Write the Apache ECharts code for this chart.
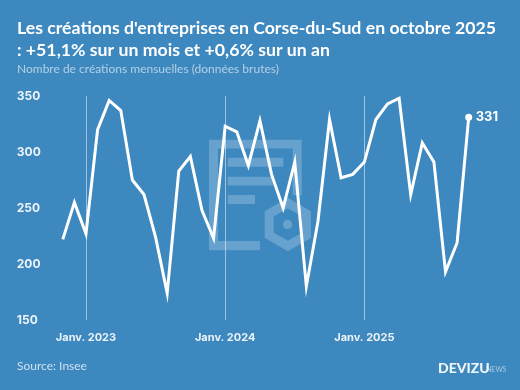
<!DOCTYPE html>
<html>
<head>
<meta charset="utf-8">
<style>
  html, body { margin: 0; padding: 0; background: #3c88bf; }
  #chart { width: 520px; height: 390px; }
</style>
<script src="https://cdn.jsdelivr.net/npm/echarts@6/dist/echarts.min.js"></script>
</head>
<body>
<div id="chart"></div>
<script>
const months = [
  'Nov. 2022', 'Déc. 2022',
  'Janv. 2023', 'Févr. 2023', 'Mars 2023', 'Avr. 2023', 'Mai 2023', 'Juin 2023',
  'Juil. 2023', 'Août 2023', 'Sept. 2023', 'Oct. 2023', 'Nov. 2023', 'Déc. 2023',
  'Janv. 2024', 'Févr. 2024', 'Mars 2024', 'Avr. 2024', 'Mai 2024', 'Juin 2024',
  'Juil. 2024', 'Août 2024', 'Sept. 2024', 'Oct. 2024', 'Nov. 2024', 'Déc. 2024',
  'Janv. 2025', 'Févr. 2025', 'Mars 2025', 'Avr. 2025', 'Mai 2025', 'Juin 2025',
  'Juil. 2025', 'Août 2025', 'Sept. 2025', 'Oct. 2025'
];
const creations = [
  222, 255,
  227, 320, 346, 337, 275, 262, 224, 174, 283, 296, 248, 223,
  323, 318, 288, 328, 280, 250, 291, 180, 238, 329, 277, 280,
  291, 329, 343, 348, 262, 308, 291, 193, 219, 331
];
const yTicks = { min: 150, max: 350, interval: 50 };

const mChart = echarts.init(document.getElementById('chart'), null, { renderer: 'canvas' });
const font = 'Lato, "Open Sans", sans-serif';
const axisFont = 'Inter, Lato, sans-serif';
const last = creations.length - 1;
const isJanuary = (i) => months[i].startsWith('Janv');
const mark = 'rgba(255,255,255,0.22)';

function hexagon(cx, cy, r) {
  const pts = [];
  for (let i = 0; i < 6; i++) {
    const a = Math.PI / 6 + i * Math.PI / 3;
    pts.push([cx + r * Math.cos(a), cy + r * Math.sin(a)]);
  }
  return pts;
}

// filigrane derrière la courbe
function bar(x, y, width, height) {
  return { type: 'rect', silent: true, z: -1, shape: { x, y, width, height }, style: { fill: mark } };
}

const option = {
  backgroundColor: '#3c88bf',
  animation: false,
  title: [
    {
      text: "Les créations d'entreprises en Corse-du-Sud en octobre 2025\n: +51,1% sur un mois et +0,6% sur un an",
      left: 17, top: 17, padding: 0,
      textStyle: { color: '#fff', fontFamily: font, fontSize: 17.7, fontWeight: 'bold', lineHeight: 22.5 }
    },
    {
      text: 'Nombre de créations mensuelles (données brutes)',
      left: 17, top: 63, padding: 0,
      textStyle: { color: 'rgba(255,255,255,0.6)', fontFamily: font, fontSize: 12, fontWeight: 'normal' }
    },
    {
      text: 'Source: Insee',
      left: 17, top: 360, padding: 0,
      textStyle: { color: 'rgba(255,255,255,0.75)', fontFamily: font, fontSize: 12, fontWeight: 'normal' }
    }
  ],
  grid: { left: 62.8, right: 51.3, top: 96, bottom: 70 },
  xAxis: {
    type: 'category',
    data: months,
    boundaryGap: false,
    axisLine: { show: false },
    axisTick: { show: false },
    axisLabel: {
      interval: (i) => isJanuary(i),
      margin: 12,
      color: 'rgba(255,255,255,0.9)',
      fontFamily: axisFont, fontSize: 11, fontWeight: 'bold'
    },
    splitLine: {
      show: true,
      interval: (i) => isJanuary(i),
      lineStyle: { color: 'rgba(255,255,255,0.5)', width: 1 }
    }
  },
  yAxis: {
    type: 'value',
    min: yTicks.min,
    max: yTicks.max,
    interval: yTicks.interval,
    axisLine: { show: false },
    axisTick: { show: false },
    splitLine: { show: false },
    axisLabel: {
      align: 'left',
      margin: 46,
      color: 'rgba(255,255,255,0.9)',
      fontFamily: axisFont, fontSize: 12, fontWeight: 'bold'
    }
  },
  series: [
    {
      type: 'line',
      data: creations,
      showSymbol: true,
      showAllSymbols: true,
      symbol: 'circle',
      symbolSize: (v, p) => (p.dataIndex === last ? 7 : 0),
      itemStyle: { color: '#fff' },
      lineStyle: { color: '#fff', width: 3, join: 'miter', cap: 'butt' },
      endLabel: {
        show: true,
        distance: 7,
        formatter: (p) => String(p.value),
        color: '#fff',
        fontFamily: axisFont, fontSize: 13, fontWeight: 'bold'
      }
    }
  ],
  graphic: [
    bar(209, 139.7, 92.7, 8.7),
    bar(209, 148.4, 9, 92.6),
    bar(209, 241, 51, 9.3),
    bar(292.7, 148.4, 9, 46.6),
    bar(227.7, 157.7, 55.6, 9),
    bar(227.7, 176.7, 45, 8.7),
    bar(227.7, 195, 27.3, 9),
    {
      type: 'polygon', silent: true, z: -1,
      shape: { points: hexagon(287.8, 224.5, 21.5) },
      style: { fill: 'transparent', stroke: mark, lineWidth: 9 }
    },
    {
      type: 'circle', silent: true, z: -1,
      shape: { cx: 287.6, cy: 224.5, r: 4.7 },
      style: { fill: mark }
    },
    {
      type: 'text', left: 438, top: 361,
      style: { text: 'DEVIZU', fill: 'rgba(255,255,255,0.92)', font: '900 14px ' + font }
    },
    {
      type: 'text', left: 486, top: 366,
      style: { text: 'NEWS', fill: 'rgba(255,255,255,0.55)', font: '7px ' + font }
    }
  ]
};

option && mChart.setOption(option);
</script>
</body>
</html>
